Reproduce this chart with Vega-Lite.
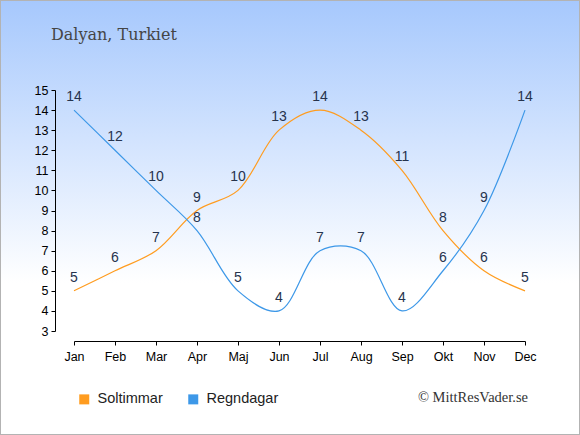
{
  "$schema": "https://vega.github.io/schema/vega-lite/v6.json",
  "width": 580,
  "height": 435,
  "autosize": {"type": "none"},
  "padding": 0,
  "title": {
    "text": "Dalyan, Turkiet",
    "frame": "group",
    "anchor": "start",
    "orient": "top",
    "offset": 0,
    "baseline": "alphabetic",
    "dx": 51,
    "dy": 56,
    "font": "DejaVu Serif",
    "fontSize": 16,
    "fontWeight": "normal",
    "color": "#454545"
  },
  "data": {
    "values": [
      {"month": "Jan", "serie": "Soltimmar", "value": 5},
      {"month": "Feb", "serie": "Soltimmar", "value": 6},
      {"month": "Mar", "serie": "Soltimmar", "value": 7},
      {"month": "Apr", "serie": "Soltimmar", "value": 9},
      {"month": "Maj", "serie": "Soltimmar", "value": 10},
      {"month": "Jun", "serie": "Soltimmar", "value": 13},
      {"month": "Jul", "serie": "Soltimmar", "value": 14},
      {"month": "Aug", "serie": "Soltimmar", "value": 13},
      {"month": "Sep", "serie": "Soltimmar", "value": 11},
      {"month": "Okt", "serie": "Soltimmar", "value": 8},
      {"month": "Nov", "serie": "Soltimmar", "value": 6},
      {"month": "Dec", "serie": "Soltimmar", "value": 5},
      {"month": "Jan", "serie": "Regndagar", "value": 14},
      {"month": "Feb", "serie": "Regndagar", "value": 12},
      {"month": "Mar", "serie": "Regndagar", "value": 10},
      {"month": "Apr", "serie": "Regndagar", "value": 8},
      {"month": "Maj", "serie": "Regndagar", "value": 5},
      {"month": "Jun", "serie": "Regndagar", "value": 4},
      {"month": "Jul", "serie": "Regndagar", "value": 7},
      {"month": "Aug", "serie": "Regndagar", "value": 7},
      {"month": "Sep", "serie": "Regndagar", "value": 4},
      {"month": "Okt", "serie": "Regndagar", "value": 6},
      {"month": "Nov", "serie": "Regndagar", "value": 9},
      {"month": "Dec", "serie": "Regndagar", "value": 14}
    ]
  },
  "encoding": {
    "x": {
      "field": "month",
      "type": "ordinal",
      "scale": {
        "type": "point",
        "domain": ["Jan", "Feb", "Mar", "Apr", "Maj", "Jun", "Jul", "Aug", "Sep", "Okt", "Nov", "Dec"],
        "range": [74, 525],
        "padding": 0
      },
      "axis": {
        "title": null,
        "orient": "bottom",
        "offset": -94,
        "labelAngle": 0,
        "labelPadding": 5,
        "tickSize": 4
      }
    },
    "y": {
      "field": "value",
      "type": "quantitative",
      "scale": {"domain": [3, 15], "range": [331, 90], "zero": false, "nice": false},
      "axis": {
        "title": null,
        "orient": "left",
        "offset": -55,
        "values": [3, 4, 5, 6, 7, 8, 9, 10, 11, 12, 13, 14, 15],
        "labelPadding": 3,
        "tickSize": 4
      }
    }
  },
  "layer": [
    {
      "mark": {"type": "line", "interpolate": "catmull-rom", "strokeWidth": 1.2},
      "encoding": {
        "color": {
          "field": "serie",
          "type": "nominal",
          "scale": {"domain": ["Soltimmar", "Regndagar"], "range": ["#ff9c1f", "#3d98e8"]},
          "legend": {
            "title": null,
            "orient": "none",
            "legendX": 77,
            "legendY": 392,
            "direction": "horizontal",
            "padding": 0,
            "symbolType": "square",
            "symbolSize": 100,
            "symbolStrokeWidth": 0,
            "labelOffset": 6,
            "columnPadding": 23,
            "labelFont": "Liberation Sans",
            "labelFontSize": 14.5,
            "labelColor": "#222222",
            "encode": {
              "symbols": {
                "update": {
                  "fill": {"scale": "color", "field": "value"},
                  "fillOpacity": {"value": 1},
                  "strokeWidth": {"value": 0}
                }
              }
            }
          }
        }
      }
    },
    {
      "mark": {
        "type": "text",
        "dy": -13,
        "baseline": "middle",
        "align": "center",
        "font": "Liberation Sans",
        "fontSize": 14,
        "color": "#26334d"
      },
      "encoding": {
        "text": {"field": "value", "type": "quantitative"}
      }
    },
    {
      "data": {"values": [{"month": "Dec", "txt": "© MittResVader.se", "value": -0.53}]},
      "mark": {
        "type": "text",
        "align": "right",
        "baseline": "alphabetic",
        "dx": 3,
        "font": "Liberation Serif",
        "fontSize": 14.5,
        "color": "#333333"
      },
      "encoding": {
        "text": {"field": "txt", "type": "nominal"}
      }
    }
  ],
  "config": {
    "view": {
      "fill": {
        "gradient": "linear",
        "x1": 0, "y1": 0, "x2": 0, "y2": 1,
        "stops": [
          {"offset": 0, "color": "#a6c8fd"},
          {"offset": 0.65, "color": "#ffffff"},
          {"offset": 1, "color": "#ffffff"}
        ]
      },
      "stroke": "#b3b3b3",
      "strokeWidth": 2
    },
    "axis": {
      "grid": false,
      "domainColor": "#000000",
      "tickColor": "#000000",
      "labelColor": "#000000",
      "labelFont": "Liberation Sans",
      "labelFontSize": 12.5
    }
  }
}
